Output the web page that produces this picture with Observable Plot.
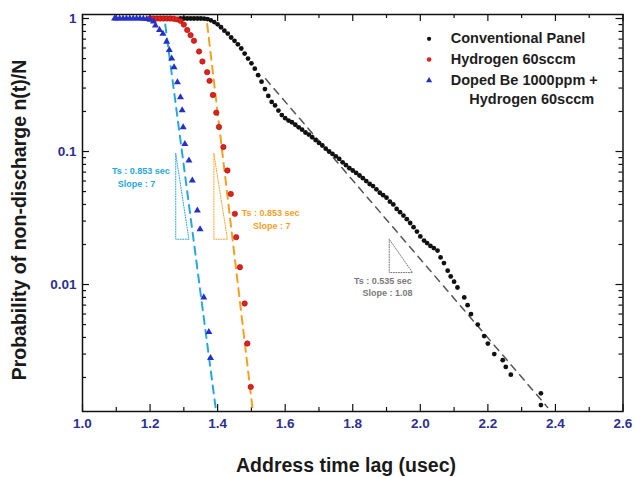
<!DOCTYPE html>
<html><head><meta charset="utf-8">
<script src="https://cdn.jsdelivr.net/npm/d3@7"></script>
<script src="https://cdn.jsdelivr.net/npm/@observablehq/plot@0.6"></script>
<style>
body{margin:0;background:#fff;font-family:"Liberation Sans",Arial,sans-serif}
#chart{position:relative;width:635px;height:477px}
.title{position:absolute;font-weight:bold;color:#1a1a1a;font-size:19.5px;white-space:nowrap;line-height:1}
</style>
</head><body><div id="chart"></div>
<script>
// ---- data (t in usec, probability n(t)/N) ----
const conventionalT = [1.29,1.30,1.31,1.32,1.33,1.34,1.35,1.36,1.37,1.38,1.39,1.40,1.41,1.42,1.43,1.44,1.45,1.46,1.47,1.48,1.49,1.50,1.51,1.52,1.53,1.54,1.55,1.56,1.57,1.58,1.59,1.60,1.61,1.62,1.63,1.64,1.65,1.66,1.67,1.68,1.69,1.70,1.71,1.72,1.73,1.74,1.75,1.76,1.77,1.78,1.79,1.80,1.81,1.82,1.83,1.84,1.85,1.86,1.87,1.88,1.89,1.90,1.91,1.92,1.93,1.94,1.95,1.96,1.97,1.98,1.99,2.00,2.011,2.02,2.03,2.04,2.051,2.06,2.07,2.081,2.09,2.10,2.11,2.13,2.14,2.15,2.17,2.189,2.20,2.219,2.244,2.253,2.268,2.357,2.357];
const conventionalP = [1,1,1,1,1,1,1,0.998,0.99,0.97,0.94,0.905,0.86,0.81,0.77,0.72,0.68,0.64,0.595,0.545,0.50,0.46,0.42,0.375,0.335,0.295,0.262,0.236,0.222,0.203,0.188,0.178,0.171,0.166,0.159,0.152,0.146,0.139,0.134,0.128,0.122,0.116,0.111,0.105,0.100,0.096,0.092,0.088,0.083,0.079,0.075,0.072,0.069,0.066,0.063,0.060,0.057,0.055,0.052,0.049,0.047,0.045,0.042,0.040,0.037,0.035,0.033,0.031,0.029,0.027,0.025,0.023,0.0214,0.0205,0.0195,0.0188,0.018,0.016,0.0145,0.0127,0.0115,0.0105,0.0095,0.008,0.007,0.006,0.005,0.0041,0.0036,0.003,0.0027,0.0024,0.0021,0.00152,0.00124];

const hydrogenT = [1.20,1.21,1.22,1.23,1.24,1.25,1.26,1.27,1.28,1.29,1.30,1.31,1.32,1.33,1.345,1.355,1.369,1.376,1.386,1.396,1.404,1.417,1.429,1.439,1.451,1.455,1.466,1.48,1.488,1.498];
const hydrogenP = [1,1,1,1,1,1,1,0.995,0.985,0.96,0.90,0.82,0.75,0.68,0.565,0.475,0.395,0.34,0.266,0.196,0.153,0.108,0.072,0.048,0.034,0.0227,0.0135,0.0072,0.0036,0.0017];

const dopedT = [1.095,1.10,1.11,1.12,1.13,1.14,1.15,1.16,1.17,1.18,1.19,1.20,1.21,1.216,1.228,1.238,1.249,1.257,1.264,1.271,1.281,1.29,1.295,1.298,1.303,1.315,1.325,1.34,1.348,1.359,1.374,1.379];
const dopedP = [1,1,1,1,1,1,1,1,1,0.995,0.99,0.98,0.95,0.886,0.82,0.767,0.67,0.58,0.50,0.43,0.332,0.256,0.204,0.152,0.114,0.0857,0.0606,0.036,0.026,0.008,0.0044,0.0028];

// fitted (dashed) lines: end points
const fitDopedT = [1.245, 1.394], fitDopedP = [0.90, 0.00119];
const fitHydrogenT = [1.369, 1.503], fitHydrogenP = [0.91, 0.00119];
const fitConvT = [1.542, 2.377], fitConvP = [0.352, 0.00119];

// annotation texts
const noteDoped = ["Ts : 0.853 sec", "Slope : 7"];
const noteHydrogen = ["Ts : 0.853 sec", "Slope : 7"];
const noteConv = ["Ts : 0.535 sec", "Slope : 1.08"];

// legend
const legendLabels = ["Conventional Panel", "Hydrogen 60sccm", "Doped Be 1000ppm +", "Hydrogen 60sccm"];

// ticks
const xMajor = [1.0,1.2,1.4,1.6,1.8,2.0,2.2,2.4,2.6];
const xMinor = [1.1,1.3,1.5,1.7,1.9,2.1,2.3,2.5];
const yMajor = [1, 0.1, 0.01];
const yMinor = [0.002,0.003,0.004,0.005,0.006,0.007,0.008,0.009,0.02,0.03,0.04,0.05,0.06,0.07,0.08,0.09,0.2,0.3,0.4,0.5,0.6,0.7,0.8,0.9];

// ---- layout ----
const W = 635, H = 477, ML = 82, MR = 12.5, MT = 14, MB = 66;
const xDom = [1.0, 2.6], yDom = [0.00111, 1.072];
const kx = (xDom[1]-xDom[0])/(W-ML-MR);
const ky = Math.log10(yDom[1]/yDom[0])/(H-MT-MB);
const upY = (p, px) => p*Math.pow(10, px*ky);
const zip = (T, P) => T.map((t,i)=>({t, p:P[i]}));

const conv = zip(conventionalT, conventionalP);
const hyd = zip(hydrogenT, hydrogenP);
const dop = zip(dopedT, dopedP);

const cyan = "#27a7de", orange = "#f5a11f", gray = "#555555";
const navy = "#2e2f8f";

function tri(t0, pTop, pBot, t1){
  return [{t:t0,p:pTop},{t:t0,p:pBot},{t:t1,p:pBot},{t:t0,p:pTop}];
}
const triDoped = tri(1.276, 0.0962, 0.0219, 1.315);
const triHyd = tri(1.389, 0.0962, 0.0219, 1.429);
const triConv = tri(1.908, 0.0219, 0.0123, 1.977);

const legendT = [2.026, 2.090, 2.145];
const legendP = [0.704, 0.492, 0.342, 0.245];

const tickStyle = {stroke:"#111", strokeWidth:1.2};
const maj = 7, mnr = 4;

const plot = Plot.plot({
  width: W, height: H,
  marginLeft: ML, marginRight: MR, marginTop: MT, marginBottom: MB,
  style: {fontFamily: "'Liberation Sans', Arial, sans-serif", background: "#fff"},
  x: {domain: xDom, label: null},
  y: {type: "log", domain: yDom, label: null},
  marks: [
    Plot.axisX({ticks: xMajor, tickSize: 0, tickPadding: 7, tickFormat: d => d.toFixed(1), fill: navy, fontSize: 13.5, fontWeight: "bold", label: null}),
    Plot.axisY({ticks: yMajor, tickSize: 0, tickPadding: 6, tickFormat: d => String(d), fill: navy, fontSize: 13.5, fontWeight: "bold", label: null}),
    // inward ticks on four sides
    Plot.ruleX(xMajor, {x: d=>d, y1: yDom[0], y2: upY(yDom[0], maj), ...tickStyle}),
    Plot.ruleX(xMinor, {x: d=>d, y1: yDom[0], y2: upY(yDom[0], mnr), ...tickStyle}),
    Plot.ruleX(xMajor, {x: d=>d, y1: yDom[1], y2: upY(yDom[1], -maj), ...tickStyle}),
    Plot.ruleX(xMinor, {x: d=>d, y1: yDom[1], y2: upY(yDom[1], -mnr), ...tickStyle}),
    Plot.ruleY(yMajor, {y: d=>d, x1: xDom[0], x2: xDom[0]+maj*kx, ...tickStyle}),
    Plot.ruleY(yMinor, {y: d=>d, x1: xDom[0], x2: xDom[0]+mnr*kx, ...tickStyle}),
    Plot.ruleY(yMajor, {y: d=>d, x1: xDom[1], x2: xDom[1]-maj*kx, ...tickStyle}),
    Plot.ruleY(yMinor, {y: d=>d, x1: xDom[1], x2: xDom[1]-mnr*kx, ...tickStyle}),
    // fit lines
    Plot.line(zip(fitConvT, fitConvP), {x:"t", y:"p", stroke: gray, strokeWidth: 1.5, strokeDasharray: "7,6", clip: true}),
    Plot.line(zip(fitHydrogenT, fitHydrogenP), {x:"t", y:"p", stroke: orange, strokeWidth: 2, strokeDasharray: "8,6", clip: true}),
    Plot.line(zip(fitDopedT, fitDopedP), {x:"t", y:"p", stroke: cyan, strokeWidth: 2, strokeDasharray: "8,6", clip: true}),
    // slope triangles
    Plot.line(triDoped, {x:"t", y:"p", stroke: cyan, strokeWidth: 1, strokeDasharray: "1,1.5"}),
    Plot.line(triHyd, {x:"t", y:"p", stroke: orange, strokeWidth: 1, strokeDasharray: "1,1.5"}),
    Plot.line(triConv, {x:"t", y:"p", stroke: "#777", strokeWidth: 1, strokeDasharray: "1,1.5"}),
    // annotation texts
    Plot.text(noteDoped, {x: [1.173, 1.16], y: [0.0707, 0.0565], text: d=>d, fill: cyan, fontSize: 9, fontWeight: "bold"}),
    Plot.text(noteHydrogen, {x: [1.557, 1.56], y: [0.0342, 0.0273], text: d=>d, fill: orange, fontSize: 9, fontWeight: "bold"}),
    Plot.text(noteConv, {x: [1.889, 1.903], y: [0.0107, 0.00855], text: d=>d, fill: "#7a7a7a", fontSize: 9, fontWeight: "bold"}),
    // data
    Plot.dot(conv, {x:"t", y:"p", r: 2.4, fill: "#111", stroke: "none"}),
    Plot.dot(hyd, {x:"t", y:"p", r: 2.7, fill: "#e3201b", stroke: "#9c1010", strokeWidth: 0.6}),
    Plot.dot(dop, {x:"t", y:"p", r: 2.6, symbol: "triangle", fill: "#2630c8", stroke: "none"}),
    // legend
    Plot.dot([0], {x: legendT[0], y: legendP[0], r: 2.1, fill: "#111"}),
    Plot.dot([0], {x: legendT[0], y: legendP[1], r: 2.3, fill: "#e3201b"}),
    Plot.dot([0], {x: legendT[0], y: legendP[2], r: 2.3, symbol: "triangle", fill: "#2630c8"}),
    Plot.text(legendLabels, {x: [legendT[1], legendT[1], legendT[1], legendT[2]], y: legendP, text: d=>d, textAnchor: "start", fill: "#1e1e1e", fontSize: 14.5, fontWeight: "bold"}),
    Plot.frame({stroke: "#111", strokeWidth: 1.5})
  ]
});

const chart = document.getElementById("chart");
chart.appendChild(plot);
const xt = document.createElement("div");
xt.className = "title"; xt.textContent = "Address time lag (usec)";
xt.style.left = "346px"; xt.style.top = "466px"; xt.style.transform = "translate(-50%,-50%)";
chart.appendChild(xt);
const yt = document.createElement("div");
yt.className = "title"; yt.textContent = "Probability of non-discharge n(t)/N";
yt.style.left = "20px"; yt.style.top = "220px"; yt.style.transform = "translate(-50%,-50%) rotate(-90deg)";
chart.appendChild(yt);
</script>
</body></html>
